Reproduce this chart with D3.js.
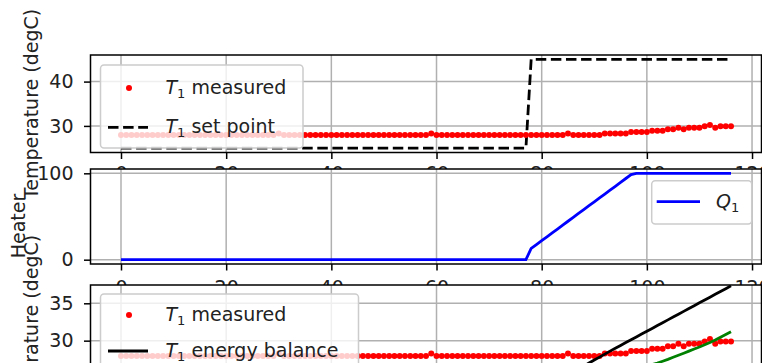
<!DOCTYPE html>
<html><head><meta charset="utf-8">
<script src="https://cdn.jsdelivr.net/npm/d3@7"></script>
<style>
html,body{margin:0;padding:0;background:#fff;overflow:hidden;}
svg{display:block;}
text{font-family:"DejaVu Sans",sans-serif;}
</style></head><body>
<svg id="c" width="762" height="363"></svg>
<script>
// ---------- data ----------
const time = [0,1,2,3,4,5,6,7,8,9,10,11,12,13,14,15,16,17,18,19,20,21,22,23,24,25,26,27,28,29,
 30,31,32,33,34,35,36,37,38,39,40,41,42,43,44,45,46,47,48,49,50,51,52,53,54,55,56,57,58,59,
 60,61,62,63,64,65,66,67,68,69,70,71,72,73,74,75,76,77,78,79,80,81,82,83,84,85,86,87,88,89,
 90,91,92,93,94,95,96,97,98,99,100,101,102,103,104,105,106,107,108,109,110,111,112,113,114,115,116];

const T1measured = [27.96,27.96,27.96,27.96,27.96,27.96,27.96,27.96,27.96,27.96,
 27.96,27.96,27.96,27.96,27.96,27.96,27.96,27.96,27.96,27.96,
 27.96,27.96,27.96,27.96,27.96,27.96,27.96,27.96,27.96,27.96,
 28.29,27.96,27.96,27.96,27.96,27.96,27.96,27.96,27.96,27.96,
 27.96,27.96,27.96,27.96,27.96,27.96,27.96,27.96,27.96,27.96,
 27.96,27.96,27.96,27.96,27.96,27.96,27.96,27.96,27.96,28.29,
 27.96,27.96,27.96,27.96,27.96,27.96,27.96,27.96,27.96,27.96,
 27.96,27.96,27.96,27.96,27.96,27.96,27.96,27.96,27.96,27.96,
 27.96,27.96,27.96,27.96,27.96,28.29,27.96,27.96,27.96,27.96,
 27.96,27.96,28.29,28.29,28.29,28.29,28.29,28.61,28.61,28.61,
 28.61,28.93,28.93,28.93,29.25,29.25,29.58,29.25,29.58,29.58,
 29.58,29.90,30.22,29.58,29.90,29.90,29.90];

const T1setpoint = [25,25,25,25,25,25,25,25,25,25,25,25,25,25,25,25,25,25,25,25,
 25,25,25,25,25,25,25,25,25,25,25,25,25,25,25,25,25,25,25,25,
 25,25,25,25,25,25,25,25,25,25,25,25,25,25,25,25,25,25,25,25,
 25,25,25,25,25,25,25,25,25,25,25,25,25,25,25,25,25,25,
 45,45,45,45,45,45,45,45,45,45,45,45,45,45,45,45,45,45,45,45,
 45,45,45,45,45,45,45,45,45,45,45,45,45,45,45,45,45,45,45];

const Q1 = [0,0,0,0,0,0,0,0,0,0,0,0,0,0,0,0,0,0,0,0,
 0,0,0,0,0,0,0,0,0,0,0,0,0,0,0,0,0,0,0,0,
 0,0,0,0,0,0,0,0,0,0,0,0,0,0,0,0,0,0,0,0,
 0,0,0,0,0,0,0,0,0,0,0,0,0,0,0,0,0,0,
 13,17.5,22,26.5,31,35.5,40,44.5,49,53.5,58,62.5,67,71.5,76,80.5,85,89.5,94,98.5,
 100,100,100,100,100,100,100,100,100,100,100,100,100,100,100,100,100,100,100];

const T1energy = [24,24,24,24,24,24,24,24,24,24,24,24,24,24,24,24,24,24,24,24,
 24,24,24,24,24,24,24,24,24,24,24,24,24,24,24,24,24,24,24,24,
 24,24,24,24,24,24,24,24,24,24,24,24,24,24,24,24,24,24,24,24,
 24,24,24,24,24,24,24,24,24,24,24,24,24,24,24,24,24,24,
 24.0,24.1,24.25,24.45,24.7,25.0,25.3,25.6,25.9,26.25,26.6,27.0,
 27.4,27.8,28.2,28.6,28.98,29.36,29.74,30.12,30.5,30.88,31.26,31.64,32.02,32.4,
 32.78,33.16,33.54,33.92,34.3,34.68,35.06,35.44,35.82,36.2,36.58,36.96,37.34];

const T1second = [23,23,23,23,23,23,23,23,23,23,23,23,23,23,23,23,23,23,23,23,
 23,23,23,23,23,23,23,23,23,23,23,23,23,23,23,23,23,23,23,23,
 23,23,23,23,23,23,23,23,23,23,23,23,23,23,23,23,23,23,23,23,
 23,23,23,23,23,23,23,23,23,23,23,23,23,23,23,23,23,23,
 23.0,23.0,23.05,23.1,23.2,23.3,23.45,23.6,23.8,24.0,
 24.2,24.4,24.6,24.8,25.0,25.2,25.4,25.6,25.8,26.0,
 26.2,26.4,26.6,26.8,27.0,27.25,27.5,27.78,28.05,28.32,
 28.6,28.88,29.16,29.45,29.75,30.08,30.45,30.82,31.2];

const xTicks = [0,20,40,60,80,100,120];
const yTicksTop = [30,40];
const yTicksMid = [0,100];
const yTicksBot = [25,30,35];

// ---------- layout ----------
const svg = d3.select("#c");
const L = 90.5, R = 761.5;
const x = d3.scaleLinear().domain([-5.8,121.8]).range([L,R]);
const FS = 19;
const GRID = "#b0b0b0";

function panel(id, y0, y1, dom, yTicks, xPad){
  const y = d3.scaleLinear().domain(dom).range([y1,y0]);
  const g = svg.append("g");
  g.append("rect").attr("x",L).attr("y",y0).attr("width",R-L).attr("height",y1-y0).attr("fill","#fff");
  g.append("clipPath").attr("id","clip"+id).append("rect")
    .attr("x",L).attr("y",y0).attr("width",R-L).attr("height",y1-y0);
  const grid = g.append("g").attr("clip-path","url(#clip"+id+")");
  grid.selectAll(".vx").data(xTicks).join("line")
    .attr("x1",d=>x(d)).attr("x2",d=>x(d)).attr("y1",y0).attr("y2",y1)
    .attr("stroke",GRID).attr("stroke-width",1.5);
  grid.selectAll(".hy").data(yTicks).join("line")
    .attr("x1",L).attr("x2",R).attr("y1",d=>y(d)).attr("y2",d=>y(d))
    .attr("stroke",GRID).attr("stroke-width",1.5);
  const plot = g.append("g").attr("clip-path","url(#clip"+id+")");
  const ax = g.append("g").attr("transform",`translate(0,${y1})`)
    .call(d3.axisBottom(x).tickValues(xTicks).tickSize(6.5).tickPadding(xPad).tickFormat(d3.format("d")));
  const ay = g.append("g").attr("transform",`translate(${L},0)`)
    .call(d3.axisLeft(y).tickValues(yTicks).tickSize(6.5).tickPadding(10.5).tickFormat(d3.format("d")));
  [ax,ay].forEach(a=>{
    a.select(".domain").remove();
    a.selectAll("line").attr("stroke","#000").attr("stroke-width",1.5);
    a.selectAll("text").attr("font-size",FS).attr("fill","#222").attr("font-family","DejaVu Sans");
  });
  return {g, plot, y, y0, y1};
}

function legendBox(g, x0, y0, w, h){
  g.append("rect").attr("x",x0).attr("y",y0).attr("width",w).attr("height",h)
    .attr("rx",3.5).attr("fill","#fff").attr("fill-opacity",0.8)
    .attr("stroke","#cccccc").attr("stroke-width",1.5);
}
function legendText(g, tx, base, sym, rest){
  const t = g.append("text").attr("x",tx).attr("y",base).attr("font-size",FS).attr("fill","#222");
  t.append("tspan").attr("font-style","italic").text(sym);
  t.append("tspan").attr("font-size",13).attr("dy",3.5).text("1");
  t.append("tspan").attr("dy",-3.5).text(rest);
}
function spines(p){
  p.g.append("rect").attr("x",L).attr("y",p.y0).attr("width",R-L).attr("height",p.y1-p.y0)
    .attr("fill","none").attr("stroke","#000").attr("stroke-width",1.5);
}

const idx = time.map((_,i)=>i);

// ---------- top panel ----------
const P1 = panel(1, 55, 152.5, [24,46], yTicksTop, 8);
P1.plot.append("path").datum(idx)
  .attr("d", d3.line().x(i=>x(time[i])).y(i=>P1.y(T1setpoint[i])))
  .attr("fill","none").attr("stroke","#000").attr("stroke-width",2.8).attr("stroke-dasharray","10.5,4.6");
P1.plot.selectAll("circle").data(idx).join("circle")
  .attr("cx",i=>x(time[i])).attr("cy",i=>P1.y(T1measured[i])).attr("r",3).attr("fill","#ff0000");
{
  const lg = P1.g.append("g");
  legendBox(lg, 100.5, 65, 202.5, 83);
  lg.append("circle").attr("cx",129).attr("cy",88).attr("r",3).attr("fill","#ff0000");
  legendText(lg, 165.5, 94, "T", " measured");
  lg.append("line").attr("x1",108).attr("x2",148).attr("y1",127.3).attr("y2",127.3)
    .attr("stroke","#000").attr("stroke-width",2.8).attr("stroke-dasharray","10.5,4.6");
  legendText(lg, 165.5, 133, "T", " set point");
}
spines(P1);

// ---------- middle panel ----------
const P2 = panel(2, 169, 264, [-5,105], yTicksMid, 10.5);
P2.plot.append("path").datum(idx)
  .attr("d", d3.line().x(i=>x(time[i])).y(i=>P2.y(Q1[i])))
  .attr("fill","none").attr("stroke","#0000ff").attr("stroke-width",2.8);
{
  const lg = P2.g.append("g");
  legendBox(lg, 651.7, 180.7, 100, 43.3);
  lg.append("line").attr("x1",656.7).attr("x2",700).attr("y1",201.7).attr("y2",201.7)
    .attr("stroke","#0000ff").attr("stroke-width",2.8);
  legendText(lg, 716, 208, "Q", "");
}
spines(P2);

// ---------- bottom panel ----------
const P3 = panel(3, 285, 381, [24.6,37.45], yTicksBot, 10.5);
P3.plot.selectAll("circle").data(idx).join("circle")
  .attr("cx",i=>x(time[i])).attr("cy",i=>P3.y(T1measured[i])).attr("r",3).attr("fill","#ff0000");
P3.plot.append("path").datum(idx)
  .attr("d", d3.line().x(i=>x(time[i])).y(i=>P3.y(T1energy[i])))
  .attr("fill","none").attr("stroke","#000").attr("stroke-width",2.8);
P3.plot.append("path").datum(idx)
  .attr("d", d3.line().x(i=>x(time[i])).y(i=>P3.y(T1second[i])))
  .attr("fill","none").attr("stroke","#008000").attr("stroke-width",2.8);
{
  const lg = P3.g.append("g");
  legendBox(lg, 100.5, 294, 258, 120);
  lg.append("circle").attr("cx",129).attr("cy",315).attr("r",3).attr("fill","#ff0000");
  legendText(lg, 165.5, 321, "T", " measured");
  lg.append("line").attr("x1",108).attr("x2",148).attr("y1",351).attr("y2",351)
    .attr("stroke","#000").attr("stroke-width",2.8);
  legendText(lg, 165.5, 357, "T", " energy balance");
}
spines(P3);

// ---------- y labels ----------
function ylabel(txt, cx, cy){
  svg.append("text").attr("transform",`translate(${cx},${cy}) rotate(-90)`)
    .attr("text-anchor","middle").attr("dy","0.35em").attr("font-size",FS).attr("fill","#222").text(txt);
}
ylabel("Temperature (degC)", 31, 104);
ylabel("Heater", 18, 226);
ylabel("Temperature (degC)", 31, 330);
</script>
</body></html>
